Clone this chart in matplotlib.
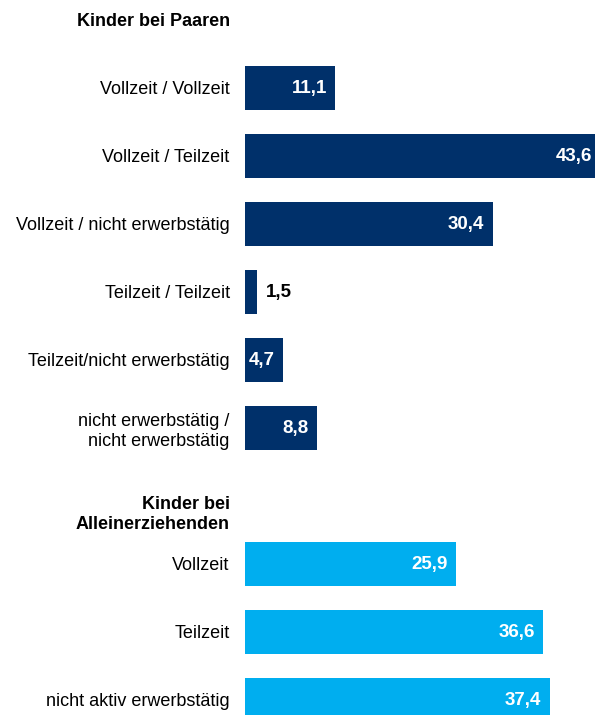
import matplotlib.pyplot as plt
import numpy as np

plt.rcParams["font.family"] = ["Liberation Sans", "DejaVu Sans"]

# Data
HEADER_PAARE = "Kinder bei Paaren"
HEADER_ALLEIN = "Kinder bei\nAlleinerziehenden"

paare_labels = [
    "Vollzeit / Vollzeit",
    "Vollzeit / Teilzeit",
    "Vollzeit / nicht erwerbstätig",
    "Teilzeit / Teilzeit",
    "Teilzeit/nicht erwerbstätig",
    "nicht erwerbstätig /\nnicht erwerbstätig",
]
paare_values = [11.1, 43.6, 30.4, 1.5, 4.7, 8.8]

allein_labels = ["Vollzeit", "Teilzeit", "nicht aktiv erwerbstätig"]
allein_values = [25.9, 36.6, 37.4]

DARK = "#00306a"
LIGHT = "#00aeef"


def fmt(v):
    return f"{v:.1f}".replace(".", ",")


fig = plt.figure(figsize=(5.95, 7.15), dpi=100)
ax = fig.add_axes([245 / 595, 0, 350 / 595, 1])

# slot positions: header, 6 bars, header, 3 bars
pos_paare = np.arange(1, 7)
pos_allein = np.arange(8, 11)
bar_h = 0.66

ax.barh(pos_paare, paare_values, height=bar_h, color=DARK)
ax.barh(pos_allein, allein_values, height=bar_h, color=LIGHT)

for y, v in list(zip(pos_paare, paare_values)) + list(zip(pos_allein, allein_values)):
    if v < 3:
        ax.annotate(fmt(v), (v, y), xytext=(6, 0), textcoords="offset points",
                    ha="left", va="center", fontsize=13.5, fontweight="bold",
                    color="black")
    else:
        ax.annotate(fmt(v), (v, y), xytext=(-6, 0), textcoords="offset points",
                    ha="right", va="center", fontsize=13.5, fontweight="bold",
                    color="white", annotation_clip=False)

ticks = [0] + list(pos_paare) + [7.22] + list(pos_allein)
labels = [HEADER_PAARE] + paare_labels + [HEADER_ALLEIN] + allein_labels
ax.set_yticks(ticks)
ax.set_yticklabels(labels, fontsize=13)
for t in ax.get_yticklabels():
    t.set_multialignment("right")
    if t.get_text() in (HEADER_PAARE, HEADER_ALLEIN):
        t.set_fontweight("bold")
ax.tick_params(axis="y", length=0, pad=11)

ax.set_xlim(0, 350 / 8.15)
ax.set_ylim((715 - 20) / 68, -20 / 68)
ax.set_xticks([])
for s in ax.spines.values():
    s.set_visible(False)

fig.savefig("out.png", dpi=100)
